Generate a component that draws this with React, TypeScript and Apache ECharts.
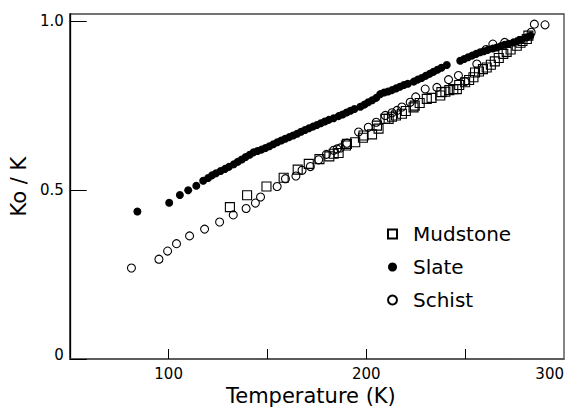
import React, { useEffect, useRef } from "react";
import * as echarts from "echarts";

// Temperature (K) and Ko/K readings
const mudstoneT = [131, 139.7, 149.5, 158.2, 165.3, 170.9, 176.3, 181.3, 183.5, 186, 189.7, 190.2, 194.4, 198.3, 198.6, 202.9, 205.4, 206.2, 209.6, 211.3, 213, 215, 218, 220, 223.9, 224.5, 227, 230.6, 233, 237.4, 238, 240, 242, 244, 245.8, 247, 250, 252, 254.2, 255, 257, 259, 260.9, 263, 265, 267, 269.3, 271, 273, 276.1, 278, 279, 281.2, 282];
const mudstoneV = [0.449, 0.484, 0.51, 0.536, 0.56, 0.577, 0.591, 0.599, 0.607, 0.609, 0.631, 0.636, 0.641, 0.654, 0.661, 0.664, 0.69, 0.681, 0.71, 0.71, 0.716, 0.72, 0.725, 0.733, 0.744, 0.749, 0.757, 0.769, 0.772, 0.779, 0.789, 0.79, 0.795, 0.798, 0.798, 0.81, 0.818, 0.825, 0.833, 0.847, 0.85, 0.857, 0.862, 0.87, 0.88, 0.89, 0.902, 0.908, 0.915, 0.926, 0.935, 0.94, 0.946, 0.956];

const slateT = [84.2, 100.3, 105.7, 109.9, 114, 117.5, 120, 122, 124, 126.3, 128.5, 130.5, 133, 135, 137, 139, 141, 143, 145, 147, 149, 151, 153, 155, 157, 159, 161, 163, 165, 167, 169, 171, 173, 175, 177, 179, 181, 183.5, 186, 188, 190, 192, 194, 197, 199, 201, 203, 205, 207, 209, 211, 213, 215, 217, 219, 221, 224, 226, 228, 230, 232, 234, 236, 238, 240.7, 247.5, 249.5, 251.5, 253.5, 255.5, 257.6, 259.5, 261.5, 264, 266, 268, 270, 272, 274.4, 276.5, 278.5, 281.2, 283];
const slateV = [0.436, 0.462, 0.485, 0.499, 0.512, 0.527, 0.535, 0.543, 0.549, 0.556, 0.562, 0.568, 0.576, 0.583, 0.59, 0.597, 0.604, 0.611, 0.615, 0.619, 0.624, 0.629, 0.635, 0.641, 0.646, 0.651, 0.656, 0.661, 0.666, 0.672, 0.677, 0.682, 0.687, 0.692, 0.697, 0.702, 0.707, 0.712, 0.718, 0.723, 0.729, 0.734, 0.739, 0.746, 0.752, 0.759, 0.765, 0.772, 0.783, 0.788, 0.791, 0.795, 0.8, 0.805, 0.81, 0.814, 0.82, 0.826, 0.831, 0.837, 0.843, 0.849, 0.855, 0.861, 0.869, 0.882, 0.887, 0.892, 0.897, 0.902, 0.907, 0.91, 0.914, 0.918, 0.921, 0.925, 0.929, 0.932, 0.936, 0.94, 0.944, 0.951, 0.956];

const schistT = [81.2, 95.1, 99.5, 104, 110.6, 118.2, 125.8, 132.7, 139.2, 143.9, 146.5, 154.9, 159.1, 164.4, 167.5, 171.7, 175.9, 179.8, 183.5, 185.2, 186.9, 190.2, 196.1, 201, 205, 209.6, 213, 215.5, 218, 222.2, 225, 229.8, 235.7, 241.6, 246.6, 250, 255.9, 260.6, 264, 270, 283.4, 285, 290.4];
const schistV = [0.269, 0.295, 0.319, 0.341, 0.364, 0.384, 0.405, 0.426, 0.445, 0.461, 0.479, 0.51, 0.533, 0.541, 0.558, 0.569, 0.589, 0.605, 0.617, 0.621, 0.624, 0.638, 0.671, 0.685, 0.7, 0.72, 0.728, 0.735, 0.745, 0.759, 0.775, 0.798, 0.803, 0.826, 0.838, 0.82, 0.872, 0.915, 0.931, 0.936, 0.966, 0.99, 0.988];

const xLabelValues = [100, 200, 300];
const xTickValues = [100, 150, 200, 250];
const yValues = [0, 0.5, 1.0];
const yLabels = ["0", "0.5", "1.0"];

const pairs = (xs: number[], ys: number[]) => xs.map((x, i) => [x, ys[i]]);

const FONT = "DejaVu Sans";

export default function App() {
  const ref = useRef<HTMLDivElement>(null);
  useEffect(() => {
    if (!ref.current) return;
    const chart = echarts.init(ref.current, null, { renderer: "svg" });
    chart.setOption({
      animation: false,
      backgroundColor: "#fff",
      grid: {
        left: 69,
        right: 9,
        top: 14,
        bottom: 53,
        show: true,
        borderColor: "#444",
        borderWidth: 1.3,
      },
      legend: {
        orient: "vertical",
        left: 382,
        top: 219,
        itemWidth: 9,
        itemHeight: 9,
        itemGap: 13,
        textStyle: { fontFamily: FONT, fontSize: 20, color: "#000", padding: [0, 0, 0, 11] },
        data: [
          { name: "Mudstone", icon: "rect" },
          { name: "Slate", icon: "circle" },
          { name: "Schist", icon: "circle" },
        ],
      },
      xAxis: {
        type: "value",
        min: 50,
        max: 300,
        interval: 50,
        name: "Temperature (K)",
        nameLocation: "middle",
        nameGap: 25,
        nameTextStyle: { fontFamily: FONT, fontSize: 21, color: "#000", padding: [0, 12, 0, 0] },
        axisLine: { lineStyle: { color: "#555", width: 1.5 } },
        axisTick: { inside: true, length: 10, customValues: xTickValues, lineStyle: { color: "#000" } },
        axisLabel: {
          customValues: xLabelValues,
          fontFamily: FONT,
          fontSize: 15,
          color: "#000",
          margin: 7,
          alignMaxLabel: "right",
        },
        splitLine: { show: false },
      },
      yAxis: {
        type: "value",
        min: 0,
        max: 1.02,
        name: "Ko / K",
        nameLocation: "middle",
        nameRotate: 90,
        nameGap: 33,
        nameTextStyle: { fontFamily: FONT, fontSize: 21, color: "#000" },
        axisLine: { lineStyle: { color: "#000", width: 1.3 } },
        axisTick: { inside: true, length: 17, customValues: yValues, lineStyle: { color: "#000" } },
        axisLabel: {
          customValues: yValues,
          fontFamily: FONT,
          fontSize: 15,
          color: "#000",
          margin: 6,
          formatter: (v: number) => {
            const i = yValues.findIndex((y) => Math.abs(y - v) < 1e-6);
            if (i < 0) return "";
            return i === 0 ? "{z|" + yLabels[i] + "}" : yLabels[i];
          },
          rich: {
            z: { fontFamily: FONT, fontSize: 15, color: "#000", padding: [0, 0, 9, 0] },
          },
        },
        splitLine: { show: false },
      },
      series: [
        {
          name: "Mudstone",
          type: "scatter",
          symbol: "rect",
          symbolSize: 9,
          itemStyle: { color: "rgba(255,255,255,0)", borderColor: "#000", borderWidth: 1.1, opacity: 1 },
          data: pairs(mudstoneT, mudstoneV),
        },
        {
          name: "Slate",
          type: "scatter",
          symbol: "circle",
          symbolSize: 8,
          itemStyle: { color: "#000", opacity: 1 },
          data: pairs(slateT, slateV),
        },
        {
          name: "Schist",
          type: "scatter",
          symbol: "circle",
          symbolSize: 8,
          itemStyle: { color: "rgba(255,255,255,0)", borderColor: "#000", borderWidth: 1.1, opacity: 1 },
          data: pairs(schistT, schistV),
        },
      ],
    });
    return () => chart.dispose();
  }, []);
  return <div ref={ref} style={{ width: 573, height: 412, position: "absolute", left: 0, top: 0 }} />;
}
